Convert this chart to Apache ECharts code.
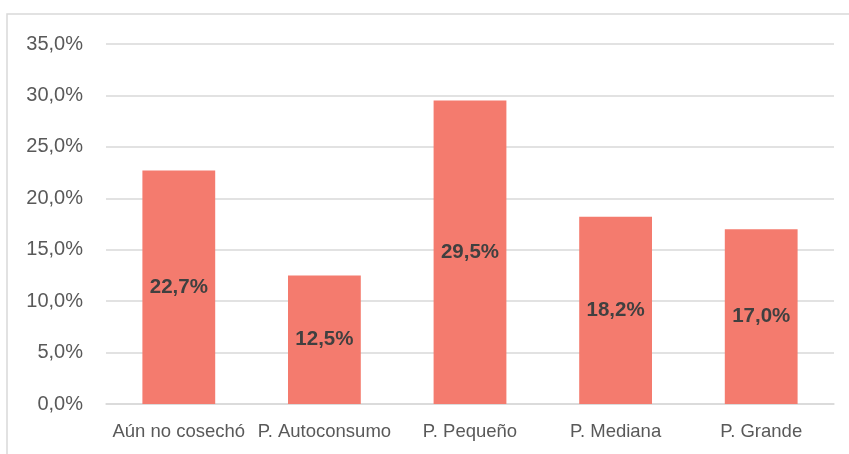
<!DOCTYPE html>
<html>
<head>
<meta charset="utf-8">
<script src="https://cdn.jsdelivr.net/npm/echarts@6/dist/echarts.min.js"></script>
<style>
  html, body { margin: 0; padding: 0; background: #fff; }
  #chart { width: 849px; height: 454px; }
</style>
</head>
<body>
<div id="chart"></div>
<script>
  // datos del gráfico
  var categories = ['Aún no cosechó', 'P. Autoconsumo', 'P. Pequeño', 'P. Mediana', 'P. Grande'];
  var values = [22.7, 12.5, 29.5, 18.2, 17.0];
  var yTicks = [0, 5, 10, 15, 20, 25, 30, 35];

  function pct(v) {
    return Number(v).toFixed(1).replace('.', ',') + '%';
  }

  var chart = echarts.init(document.getElementById('chart'));
  chart.setOption({
    animation: false,
    textStyle: { fontFamily: 'Liberation Sans' },
    graphic: [{
      type: 'rect',
      shape: { x: 7, y: 14, width: 900, height: 500 },
      style: { fill: 'none', stroke: '#d9d9d9', lineWidth: 1.5 },
      silent: true
    }],
    grid: { left: 106, right: 15, top: 44, bottom: 50 },
    xAxis: {
      type: 'category',
      data: categories,
      axisTick: { show: false },
      axisLine: { lineStyle: { color: '#d9d9d9', width: 1.5 } },
      axisLabel: { interval: 0, color: '#595959', fontSize: 18.5, margin: 18 }
    },
    yAxis: {
      type: 'value',
      min: yTicks[0],
      max: yTicks[yTicks.length - 1],
      interval: 5,
      axisLine: { show: false },
      axisTick: { show: false },
      splitLine: { lineStyle: { color: '#d9d9d9', width: 1.5 } },
      axisLabel: { color: '#595959', fontSize: 20, margin: 23, formatter: pct }
    },
    series: [{
      type: 'bar',
      data: values,
      barCategoryGap: '50%',
      itemStyle: { color: '#F47B6E' },
      label: {
        show: true,
        position: 'inside',
        color: '#404040',
        fontWeight: 'bold',
        fontSize: 20.5,
        formatter: function (p) { return pct(p.value); }
      }
    }]
  });
</script>
</body>
</html>
